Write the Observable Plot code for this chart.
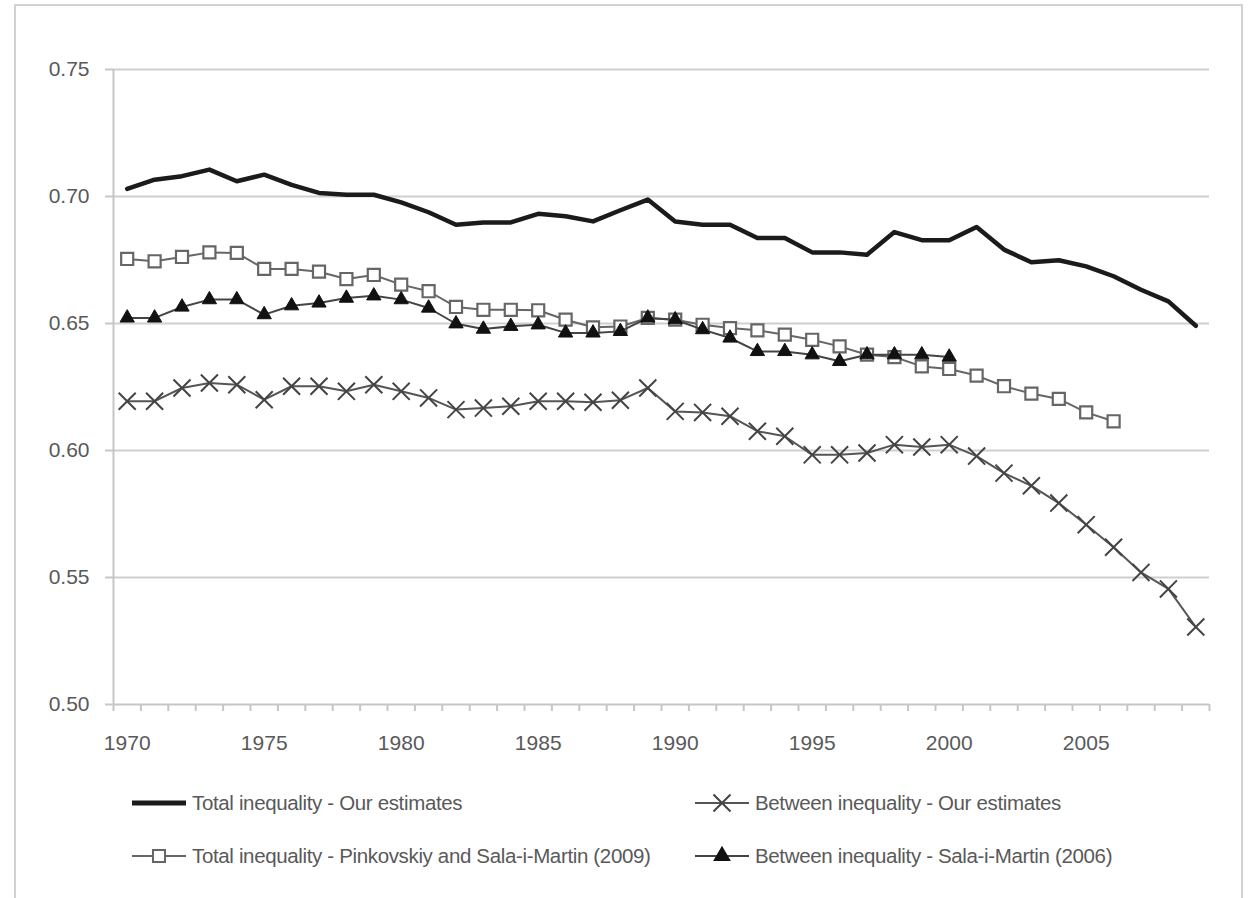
<!DOCTYPE html>
<html>
<head>
<meta charset="utf-8">
<script src="https://cdn.jsdelivr.net/npm/d3@7"></script>
<script src="https://cdn.jsdelivr.net/npm/@observablehq/plot@0.6"></script>
<style>
  html, body { margin: 0; padding: 0; background: #fff; width: 1255px; height: 898px; overflow: hidden; }
  #frame { position: absolute; left: 14px; top: 4px; width: 1229px; height: 940px; border: 2.5px solid #d2d2d2; box-sizing: border-box; }
  #chart { position: absolute; left: 0; top: 0; }
  #legend { position: absolute; left: 0; top: 780px; width: 1255px; height: 110px;
    font-family: "Liberation Sans", Arial, sans-serif; font-size: 20.5px; letter-spacing: -0.35px; color: #595959; }
  .item { position: absolute; display: flex; align-items: center; height: 30px; white-space: nowrap; }
  .item svg { display: block; flex: none; }
</style>
</head>
<body>
<div id="frame"></div>
<div id="chart"></div>
<div id="legend"></div>
<script>
// Years of observation (category axis)
const years = [1970, 1971, 1972, 1973, 1974, 1975, 1976, 1977, 1978, 1979,
               1980, 1981, 1982, 1983, 1984, 1985, 1986, 1987, 1988, 1989,
               1990, 1991, 1992, 1993, 1994, 1995, 1996, 1997, 1998, 1999,
               2000, 2001, 2002, 2003, 2004, 2005, 2006, 2007, 2008, 2009];

// Total inequality - our estimates (1970-2009)
const totalOurs = [0.7030, 0.7066, 0.7080, 0.7106, 0.7060, 0.7086, 0.7046, 0.7014, 0.7007, 0.7007,
                   0.6977, 0.6938, 0.6889, 0.6898, 0.6898, 0.6932, 0.6922, 0.6902, 0.6946, 0.6988,
                   0.6902, 0.6889, 0.6889, 0.6837, 0.6837, 0.6780, 0.6780, 0.6771, 0.6860, 0.6828,
                   0.6828, 0.6880, 0.6791, 0.6741, 0.6749, 0.6725, 0.6686, 0.6633, 0.6587, 0.6491];

// Between inequality - our estimates (1970-2009)
const betweenOurs = [0.6194, 0.6194, 0.6246, 0.6266, 0.6259, 0.6200, 0.6253, 0.6253, 0.6233, 0.6259,
                     0.6233, 0.6207, 0.6161, 0.6167, 0.6174, 0.6194, 0.6194, 0.6190, 0.6198, 0.6246,
                     0.6154, 0.6150, 0.6135, 0.6076, 0.6056, 0.5983, 0.5983, 0.5990, 0.6023, 0.6014,
                     0.6023, 0.5978, 0.5911, 0.5861, 0.5793, 0.5708, 0.5619, 0.5520, 0.5455, 0.5305];

// Total inequality - Pinkovskiy and Sala-i-Martin (2009), 1970-2006
const totalPinkovskiy = [0.6754, 0.6745, 0.6762, 0.6780, 0.6778, 0.6715, 0.6715, 0.6704, 0.6675, 0.6691,
                         0.6653, 0.6627, 0.6565, 0.6554, 0.6554, 0.6552, 0.6515, 0.6485, 0.6488, 0.6522,
                         0.6515, 0.6495, 0.6482, 0.6473, 0.6456, 0.6436, 0.6410, 0.6377, 0.6368, 0.6331,
                         0.6321, 0.6295, 0.6253, 0.6224, 0.6203, 0.6150, 0.6115];

// Between inequality - Sala-i-Martin (2006), 1970-2000
const betweenSala = [0.6522, 0.6522, 0.6565, 0.6594, 0.6594, 0.6535, 0.6570, 0.6581, 0.6600, 0.6609,
                     0.6594, 0.6561, 0.6499, 0.6478, 0.6489, 0.6495, 0.6463, 0.6463, 0.6469, 0.6522,
                     0.6515, 0.6476, 0.6443, 0.6390, 0.6390, 0.6377, 0.6351, 0.6377, 0.6377, 0.6377,
                     0.6368];

// Axis labels
const yTicks = [0.50, 0.55, 0.60, 0.65, 0.70, 0.75];
const xLabelYears = [1970, 1975, 1980, 1985, 1990, 1995, 2000, 2005];

// Legend entries
const legendLabels = {
  totalOurs: "Total inequality - Our estimates",
  betweenOurs: "Between inequality - Our estimates",
  totalPinkovskiy: "Total inequality - Pinkovskiy and Sala-i-Martin (2009)",
  betweenSala: "Between inequality - Sala-i-Martin (2006)"
};

const toRows = (values) => values.map((value, i) => ({year: years[i], value}));
const rowsTotal = toRows(totalOurs);
const rowsBetween = toRows(betweenOurs);
const rowsPink = toRows(totalPinkovskiy);
const rowsSala = toRows(betweenSala);

// category boundaries, where the axis tick marks sit
const boundaries = years.map(y => y - 0.5).concat([years[years.length - 1] + 0.5]);

const axisGray = "#c6c6c6";
const textGray = "#595959";

const chart = Plot.plot({
  width: 1255,
  height: 760,
  marginLeft: 113,
  marginRight: 46,
  marginTop: 69,
  marginBottom: 56,
  x: {domain: [boundaries[0], boundaries[boundaries.length - 1]], label: null},
  y: {domain: [0.5, 0.75], label: null},
  style: {fontFamily: "'Liberation Sans', Arial, sans-serif", fontSize: "21px", color: textGray, background: "transparent", overflow: "visible"},
  marks: [
    Plot.gridY(yTicks.slice(1), {stroke: "#cfcfcf", strokeOpacity: 1, strokeWidth: 2}),
    Plot.axisY({ticks: yTicks, tickSize: 8, tickPadding: 16, tickFormat: d3.format(".2f"),
                stroke: axisGray, strokeWidth: 2, fill: textGray, fontSize: 21}),
    Plot.axisX({ticks: boundaries, tickSize: 7, tickFormat: () => "", stroke: axisGray, strokeWidth: 2}),
    Plot.axisX({ticks: xLabelYears, tickSize: 0, tickPadding: 31, tickFormat: d => String(d), fill: textGray, fontSize: 21}),
    Plot.ruleX([boundaries[0]], {stroke: axisGray, strokeWidth: 2}),
    Plot.ruleY([0.5], {stroke: axisGray, strokeWidth: 2}),

    // Total inequality - our estimates
    Plot.line(rowsTotal, {x: "year", y: "value", stroke: "#1b1b1b", strokeWidth: 4.5, curve: "linear"}),

    // Between inequality - our estimates
    Plot.line(rowsBetween, {x: "year", y: "value", stroke: "#555", strokeWidth: 2}),
    Plot.dot(rowsBetween, {x: "year", y: "value", symbol: "times", r: 7.8, stroke: "#444", strokeWidth: 2}),

    // Total inequality - Pinkovskiy and Sala-i-Martin
    Plot.line(rowsPink, {x: "year", y: "value", stroke: "#666", strokeWidth: 2}),
    Plot.dot(rowsPink, {x: "year", y: "value", symbol: "square", r: 6.8, fill: "white", stroke: "#666", strokeWidth: 2.2}),

    // Between inequality - Sala-i-Martin
    Plot.line(rowsSala, {x: "year", y: "value", stroke: "#444", strokeWidth: 2}),
    Plot.dot(rowsSala, {x: "year", y: "value", symbol: "triangle", r: 5.3, fill: "#111", stroke: "#111", strokeWidth: 1})
  ]
});
document.getElementById("chart").appendChild(chart);

// Legend: line swatches with the same symbols as the plotted series
const legend = d3.select("#legend");
const legendItems = [
  {key: "totalOurs", left: 132, center: 803, line: "#1b1b1b", lw: 5, symbol: null},
  {key: "betweenOurs", left: 695, center: 803, line: "#555", lw: 2, symbol: d3.symbolTimes, size: Math.PI * 7.8 * 7.8, fill: "none", stroke: "#444"},
  {key: "totalPinkovskiy", left: 132, center: 856, line: "#666", lw: 2, symbol: d3.symbolSquare, size: Math.PI * 6.8 * 6.8, fill: "white", stroke: "#666"},
  {key: "betweenSala", left: 695, center: 856, line: "#444", lw: 2, symbol: d3.symbolTriangle, size: Math.PI * 5.3 * 5.3, fill: "#111", stroke: "#111"}
];
for (const it of legendItems) {
  const item = legend.append("div").attr("class", "item")
    .style("left", it.left + "px").style("top", (it.center - 780 - 15) + "px");
  const sw = item.append("svg").attr("width", 54).attr("height", 30);
  sw.append("line").attr("x1", 0).attr("x2", 54).attr("y1", 15).attr("y2", 15)
    .attr("stroke", it.line).attr("stroke-width", it.lw);
  if (it.symbol) {
    sw.append("path").attr("transform", "translate(27,15)")
      .attr("d", d3.symbol(it.symbol, it.size)())
      .attr("fill", it.fill).attr("stroke", it.stroke).attr("stroke-width", 2);
  }
  item.append("span").style("margin-left", "6px").text(legendLabels[it.key]);
}
</script>
</body>
</html>
